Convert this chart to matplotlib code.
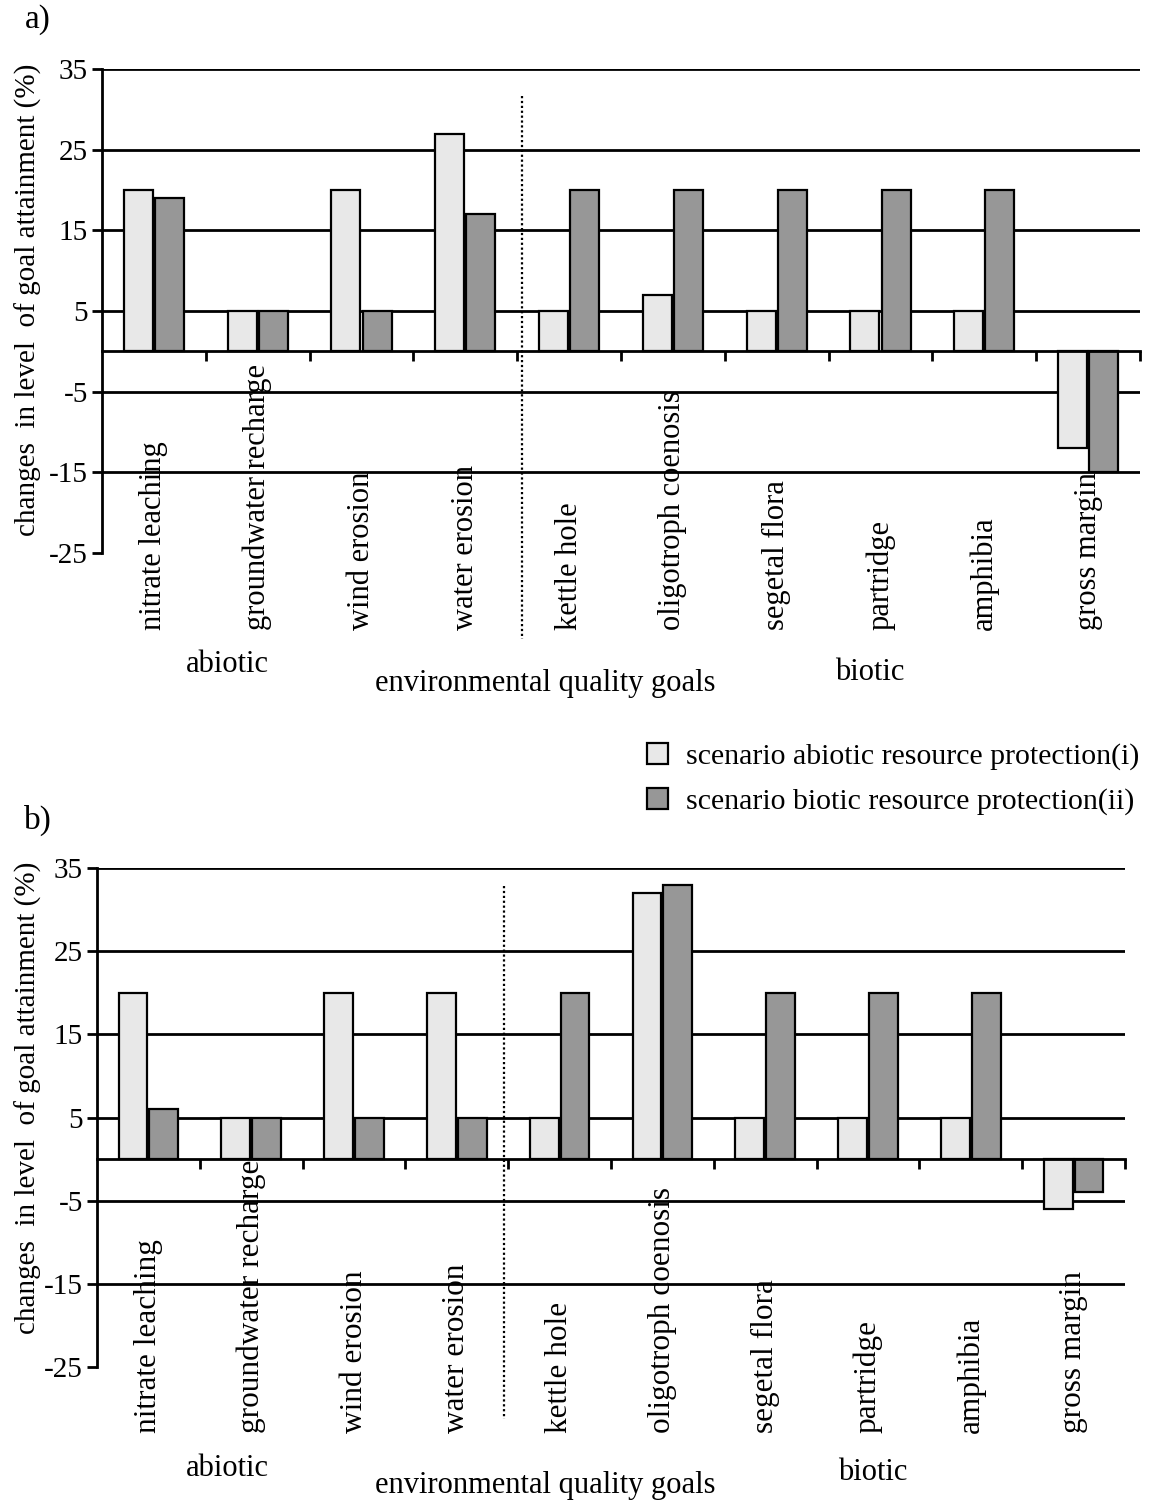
import numpy as np
import matplotlib
matplotlib.use("Agg")
import matplotlib.pyplot as plt

plt.rcParams['font.family'] = ['Liberation Serif', 'DejaVu Serif']

goals = ["nitrate leaching", "groundwater recharge", "wind erosion", "water erosion",
         "kettle hole", "oligotroph coenosis", "segetal flora", "partridge",
         "amphibia", "gross margin"]
yticks = [35, 25, 15, 5, -5, -15, -25]
ytick_labels = ["35", "25", "15", "5", "-5", "-15", "-25"]
grid_levels = [35, 25, 15, 5, -5, -15]

# panel a
a_abiotic = [20, 5, 20, 27, 5, 7, 5, 5, 5, -12]
a_biotic = [19, 5, 5, 17, 20, 20, 20, 20, 20, -15]
# panel b
b_abiotic = [20, 5, 20, 20, 5, 32, 5, 5, 5, -6]
b_biotic = [6, 5, 5, 5, 20, 33, 20, 20, 20, -4]

series_names = ["scenario abiotic resource protection(i)",
                "scenario biotic resource protection(ii)"]
light = "#e8e8e8"
dark = "#979797"

W, H = 1157, 1502
fig = plt.figure(figsize=(W / 100, H / 100), dpi=100)


def panel(rect, v1, v2, lab_y, lab_fs, dot_x, dot_top, dot_bot):
    ax = fig.add_axes(rect)
    x = np.arange(len(goals))
    w = 0.28
    b1 = ax.bar(x - 0.15, v1, w, color=light, edgecolor="black", linewidth=1.6, zorder=3)
    b2 = ax.bar(x + 0.15, v2, w, color=dark, edgecolor="black", linewidth=1.6, zorder=3)
    ax.set_xlim(-0.5, len(goals) - 0.5)
    ax.set_ylim(-25, 35)
    ax.set_yticks(yticks)
    ax.set_yticklabels(ytick_labels, fontsize=21)
    for t in grid_levels:
        ax.axhline(t, color="black", linewidth=2, zorder=1)
    ax.spines['top'].set_visible(False)
    ax.spines['right'].set_visible(False)
    ax.spines['left'].set_linewidth(2)
    ax.spines['bottom'].set_position(('data', 0))
    ax.spines['bottom'].set_linewidth(2)
    ax.spines['bottom'].set_zorder(4)
    ax.set_xticks(np.arange(len(goals)) + 0.5)
    ax.set_xticklabels([])
    ax.tick_params(axis='x', direction='out', length=7, width=2)
    ax.tick_params(axis='y', direction='out', length=7, width=2, pad=3)
    for i, g in enumerate(goals):
        ax.text(i, lab_y, g, rotation=90, ha='center', va='bottom', fontsize=lab_fs,
                clip_on=False)
    ax.plot([dot_x, dot_x], [dot_top, dot_bot], color="black", linestyle=(0, (1, 1.2)),
            linewidth=1.6, clip_on=False, zorder=2)
    return ax, b1, b2


ax_a, h1, h2 = panel([102 / W, 1 - 553 / H, 1038 / W, 484 / H],
                     a_abiotic, a_biotic, -34.6, 22, 3.55, 31.6, -35.6)
ax_b, _, _ = panel([97 / W, 1 - 1367 / H, 1028 / W, 499 / H],
                   b_abiotic, b_biotic, -32.9, 22.5, 3.46, 32.8, -31.2)

fig.text(38 / W, 1 - 20 / H, "a)", fontsize=24, ha='center', va='center')
fig.text(38 / W, 1 - 820 / H, "b)", fontsize=24, ha='center', va='center')

ylab = "changes  in level  of goal attainment (%)"
fig.text(28 / W, 1 - 300 / H, ylab, rotation=90, fontsize=21, ha='center', va='center')
fig.text(28 / W, 1 - 1098 / H, ylab, rotation=90, fontsize=21, ha='center', va='center')

for yy in (665, 1468):
    fig.text(227 / W, 1 - yy / H, "abiotic", fontsize=22, ha='center', va='center')
for yy in (684, 1485):
    fig.text(545 / W, 1 - yy / H, "environmental quality goals", fontsize=22,
             ha='center', va='center')
fig.text(870 / W, 1 - 672 / H, "biotic", fontsize=22, ha='center', va='center')
fig.text(873 / W, 1 - 1473 / H, "biotic", fontsize=22, ha='center', va='center')

fig.legend([h1, h2], series_names, loc='upper left',
           bbox_to_anchor=(647 / W, 1 - 743 / H), frameon=False, fontsize=21.5,
           handlelength=0.7, handleheight=0.7, handletextpad=0.6, labelspacing=0.6,
           borderpad=0, borderaxespad=0)

fig.savefig("out.png", dpi=100)
